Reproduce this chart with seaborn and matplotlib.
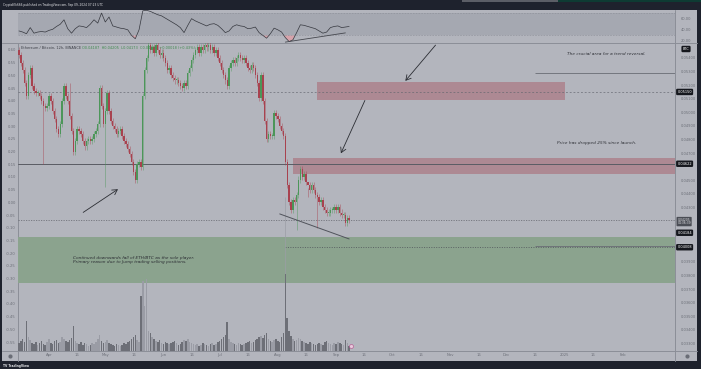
import matplotlib
matplotlib.use("Agg")
import matplotlib.pyplot as plt
import matplotlib.dates as mdates
from matplotlib.patches import Rectangle
from matplotlib.transforms import blended_transform_factory
import numpy as np
import pandas as pd
import seaborn as sns

# ---- data (left axis units for price, daily bars) ----
start_day = "2024-03-16"
first_open_pct = 0.60
closes_pct = [
    0.58, 0.55, 0.52, 0.47, 0.42, 0.50, 0.53, 0.46, 0.44, 0.43,
    0.43, 0.42, 0.40, 0.38, 0.37, 0.38, 0.42, 0.40, 0.36, 0.33,
    0.29, 0.27, 0.31, 0.40, 0.46, 0.42, 0.40, 0.34, 0.28, 0.20,
    0.24, 0.29, 0.28, 0.27, 0.24, 0.22, 0.24, 0.25, 0.24, 0.25,
    0.27, 0.28, 0.31, 0.45, 0.38, 0.31, 0.36, 0.43, 0.36, 0.32,
    0.30, 0.29, 0.27, 0.28, 0.29, 0.26, 0.24, 0.23, 0.21, 0.19,
    0.16, 0.12, 0.09, 0.15, 0.16, 0.14, 0.42, 0.52, 0.57, 0.62,
    0.60, 0.61, 0.59, 0.62, 0.60, 0.58, 0.59, 0.57, 0.55, 0.52,
    0.53, 0.50, 0.49, 0.48, 0.48, 0.47, 0.46, 0.45, 0.47, 0.46,
    0.51, 0.53, 0.56, 0.58, 0.60, 0.61, 0.59, 0.61, 0.60, 0.62,
    0.61, 0.62, 0.60, 0.61, 0.59, 0.60, 0.57, 0.55, 0.52, 0.50,
    0.48, 0.46, 0.53, 0.55, 0.56, 0.55, 0.57, 0.58, 0.57, 0.56,
    0.57, 0.55, 0.53, 0.52, 0.54, 0.53, 0.50, 0.47, 0.41, 0.50,
    0.40, 0.32, 0.25, 0.27, 0.26, 0.26, 0.35, 0.34, 0.33, 0.30,
    0.28, 0.26, 0.16, 0.07, 0.00, -0.03, 0.01, 0.00, 0.03, 0.09,
    0.13, 0.10, 0.11, 0.08, 0.07, 0.05, 0.07, 0.05, 0.03, 0.02,
    0.00, 0.01, -0.02, -0.03, -0.04, -0.04, -0.03, -0.03, -0.02, -0.03,
    -0.02, -0.04, -0.05, -0.05, -0.08, -0.06, -0.07,
]
# notable wicks: day index -> (low, high)
wick_extremes = {13: (0.15, None), 27: (None, 0.47), 46: (0.06, None),
                 148: (-0.11, None), 154: (None, 0.02), 159: (-0.10, None)}
volumes = [
    8, 10, 12, 9, 30, 14, 11, 8, 7, 9,
    6, 8, 10, 7, 6, 9, 12, 8, 7, 10,
    11, 8, 9, 14, 12, 10, 9, 11, 13, 25,
    10, 8, 7, 9, 6, 8, 7, 5, 6, 8,
    7, 9, 12, 16, 10, 8, 9, 11, 8, 7,
    6, 5, 7, 6, 5, 6, 8, 7, 9, 10,
    12, 14, 16, 11, 9, 55, 70, 45, 72, 20,
    18, 14, 12, 10, 9, 11, 8, 7, 9, 8,
    7, 8, 9, 10, 8, 6, 7, 9, 11, 10,
    12, 9, 8, 7, 6, 7, 5, 6, 8, 7,
    6, 5, 7, 8, 6, 7, 9, 10, 12, 14,
    16, 29, 12, 9, 8, 7, 6, 8, 7, 6,
    7, 8, 9, 10, 8, 9, 11, 12, 14, 15,
    13, 16, 18, 12, 10, 9, 11, 12, 10, 9,
    14, 18, 77, 33, 20, 15, 12, 10, 11, 13,
    12, 10, 9, 8, 7, 9, 8, 7, 6, 7,
    8, 7, 6, 9, 10, 8, 7, 6, 8, 7,
    9, 8, 7, 6, 11, 8, 5,
]
# RSI, one value every 2 days
rsi_values = [
    38, 36, 33, 44, 34, 36, 37, 36, 39, 41,
    46, 50, 58, 42, 34, 42, 47, 46, 44, 50,
    58, 52, 70, 54, 63, 47, 45, 43, 42, 40,
    30, 24, 40, 74, 75, 73, 70, 67, 65, 61,
    57, 53, 49, 44, 35, 48, 60, 56, 53, 50,
    47, 50, 51, 48, 42, 35, 38, 46, 49, 47,
    46, 42, 43, 45, 35, 30, 25, 33, 43, 40,
    36, 26, 19, 22, 35, 49, 48, 46, 44, 42,
    38, 34, 36, 44, 46, 47, 44, 45, 46,
]
price_ticks = [0.054, 0.053, 0.052, 0.051, 0.050, 0.049, 0.048, 0.047, 0.045,
               0.044, 0.043, 0.039, 0.038, 0.037, 0.036, 0.035, 0.034, 0.033]
pct_ticks = [0.60, 0.55, 0.50, 0.45, 0.40, 0.35, 0.30, 0.25, 0.20, 0.15, 0.10, 0.05,
             0.00, -0.05, -0.10, -0.15, -0.20, -0.25, -0.30, -0.35, -0.40, -0.45,
             -0.50, -0.55]
tick_dates = ["2024-04-01", "2024-04-16", "2024-05-01", "2024-05-16", "2024-06-01",
              "2024-06-16", "2024-07-01", "2024-07-16", "2024-08-01", "2024-08-16",
              "2024-09-01", "2024-09-16", "2024-10-01", "2024-10-16", "2024-11-01",
              "2024-11-16", "2024-12-01", "2024-12-16", "2025-01-01", "2025-01-16",
              "2025-02-01"]
tick_labels = ["Apr", "16", "May", "16", "Jun", "16", "Jul", "16", "Aug", "16", "Sep",
               "16", "Oct", "16", "Nov", "16", "Dec", "16", "2025", "16", "Feb"]
# (text, price, label shift in points so tags do not collide)
price_tags = [("0.05150", 0.05150, 0), ("0.04622", 0.04622, 0),
              ("0.04184", 0.04184, -6.8), ("0.04008", 0.04008, 0)]
last_price = 0.04205


def to_price(v):
    return 0.04338 + 0.018676 * np.asarray(v)


def to_pct(p):
    return (np.asarray(p) - 0.04338) / 0.018676


W, H = 701, 369
DARK = "#1e222d"
PANE = "#b3b5bd"
BAND = "#a5a8b1"
DIV = "#8b8e97"
TXT = "#6c6f78"
UP, DOWN = "#4c9659", "#a8424f"

sns.set_style("white")
plt.rcParams["font.family"] = ["DejaVu Sans"]

fig = plt.figure(figsize=(W / 100, H / 100), dpi=100)
fig.patch.set_facecolor(DARK)


def px_axes(x0, y0, x1, y1):
    return fig.add_axes([x0 / W, 1 - y1 / H, (x1 - x0) / W, (y1 - y0) / H])


# background canvas in pixel units (UI chrome)
bg = fig.add_axes([0, 0, 1, 1])
bg.set_xlim(0, W)
bg.set_ylim(H, 0)
bg.axis("off")
bg.add_patch(Rectangle((2, 9.5), 695, 351.5, color=PANE, lw=0))
bg.add_patch(Rectangle((462, 0), 96, 1.8, color="#5b5e66", lw=0))
bg.add_patch(Rectangle((558, 0), 143, 1.8, color="#0e3b33", lw=0))
bg.plot([2, 697], [43, 43], color=DIV, lw=0.7)
bg.plot([2, 697], [351, 351], color=DIV, lw=0.7)
bg.plot([18, 18], [9.5, 361], color=DIV, lw=0.7)
bg.plot([675, 675], [9.5, 361], color=DIV, lw=0.7)
bg.scatter([10, 687], [356, 356], s=9, color="#6a6d76", lw=0)
bg.text(3, 5.2, "CryptoNik666 published on TradingView.com, Sep 09, 2024 07:23 UTC",
        color="#e6e7ea", fontsize=2.1, va="center")
bg.text(3, 365.5, "TV TradingView", color="#e6e7ea", fontsize=2.2, va="center",
        fontweight="bold")
bg.text(686, 49, "BTC", color="white", fontsize=2.5, ha="center", va="center",
        bbox=dict(boxstyle="round,pad=0.35", fc="#15171d", ec="none"))

d0 = pd.Timestamp(start_day)
days = pd.date_range(d0, periods=len(closes_pct), freq="D")
rsi_days = pd.date_range(d0, periods=len(rsi_values), freq="2D")
x = mdates.date2num(days)
apr1 = pd.Timestamp("2024-04-01")
xmin = mdates.date2num(apr1 - pd.Timedelta(days=16.52))
xmax = mdates.date2num(apr1 + pd.Timedelta(days=333.7))

# ---- RSI pane ----
rax = px_axes(18, 9.5, 675, 43)
rax.set_facecolor(PANE)
rax.axhspan(30, 70, color=BAND, lw=0)
for lvl in (70, 30):
    rax.axhline(lvl, color="#8a8d96", lw=0.4, ls=(0, (3, 2)))
rsi = np.array(rsi_values, dtype=float)
rx = mdates.date2num(rsi_days)
rax.fill_between(rx, rsi, 30, where=rsi < 30, interpolate=True, color="#d6a3ab", lw=0)
sns.lineplot(x=rx, y=rsi, ax=rax, color="#35373e", lw=0.5)
rax.plot(mdates.date2num([pd.Timestamp("2024-08-05"), pd.Timestamp("2024-09-06")]),
         [18, 34.5], color="#45474e", lw=0.6)
rax.set_xlim(xmin, xmax)
rax.set_ylim(16.4, 76.4)
rax.set_xticks([])
rax.yaxis.tick_right()
rax.set_yticks([20, 40, 60])
rax.set_yticklabels(["20.00", "40.00", "60.00"])
rax.tick_params(axis="y", length=0, pad=4, labelsize=2.6, labelcolor=TXT)
for s in rax.spines.values():
    s.set_visible(False)

# ---- main price pane (left-axis units) ----
ax = px_axes(18, 43, 675, 351)
ax.set_facecolor("none")
ax.set_xlim(xmin, xmax)
ax.set_ylim(to_pct(0.03245), to_pct(0.0551))

ax.axhspan(to_pct(0.03743), to_pct(0.04082), color="#8ba38e", lw=0, zorder=0.5)
box1 = (mdates.date2num(pd.Timestamp("2024-08-22")), mdates.date2num(pd.Timestamp("2025-01-01")))
ax.add_patch(Rectangle((box1[0], to_pct(0.05091)), box1[1] - box1[0],
                       to_pct(0.05224) - to_pct(0.05091), color="#ad8993", lw=0, zorder=0.6))
box2_x = mdates.date2num(pd.Timestamp("2024-08-09"))
ax.add_patch(Rectangle((box2_x, to_pct(0.04547)), xmax - box2_x,
                       to_pct(0.04667) - to_pct(0.04547), color="#ad8993", lw=0, zorder=0.6))

ax.axhline(to_pct(0.05150), color="#62656e", lw=0.45, ls=(0, (3, 3)), zorder=1)
ax.axhline(to_pct(0.04622), color="#5a5c64", lw=0.7, zorder=1)
ax.axhline(to_pct(last_price), color="#5a5c64", lw=0.45, ls=(0, (2, 2)), zorder=1)
aug5 = mdates.date2num(pd.Timestamp("2024-08-05"))
ax.hlines(to_pct(0.04008), aug5, xmax, color="#4a4d55", lw=0.5, ls=(0, (1.5, 2)), zorder=1)
dec16 = mdates.date2num(pd.Timestamp("2024-12-16"))
ax.hlines([to_pct(0.0529), to_pct(0.04014)], dec16, xmax, color="#6a6d75", lw=0.6, zorder=1)
ax.vlines(aug5, to_pct(0.0352), to_pct(0.0438), color="#9c9ea6", lw=0.5, zorder=1)

# candles
closes = np.array(closes_pct)
opens = np.concatenate([[first_open_pct], closes[:-1]])
up = closes >= opens
colors = np.where(up, UP, DOWN)
lows = np.minimum(opens, closes) - 0.012
highs = np.maximum(opens, closes) + 0.012
for i, (lo, hi) in wick_extremes.items():
    if lo is not None:
        lows[i] = lo
    if hi is not None:
        highs[i] = hi
ax.vlines(x, lows, highs, colors=colors, lw=0.4, alpha=0.75, zorder=2)
body = np.maximum(np.abs(closes - opens), 0.004)
ax.bar(x, body, bottom=np.minimum(opens, closes), width=0.72, color=colors, lw=0, zorder=3)

# support line and arrows
sup = mdates.date2num([pd.Timestamp("2024-08-02"), pd.Timestamp("2024-09-08")])
ax.plot(sup, to_pct([0.04253, 0.04069]), color="#50535b", lw=0.7, zorder=4)
arrows = [(("2024-04-18", 0.04253), ("2024-05-09", 0.04446)),
          (("2024-10-25", 0.0551), ("2024-10-07", 0.05216)),
          (("2024-09-17", 0.05106), ("2024-09-03", 0.0468))]
for (t_d, t_p), (h_d, h_p) in arrows:
    ax.annotate("", xy=(mdates.date2num(pd.Timestamp(h_d)), to_pct(h_p)),
                xytext=(mdates.date2num(pd.Timestamp(t_d)), to_pct(t_p)),
                arrowprops=dict(arrowstyle="->,head_length=0.35,head_width=0.2",
                                color="#2b2d33", lw=0.6), zorder=5, annotation_clip=False)

ax.text(mdates.date2num(pd.Timestamp("2025-01-23")), to_pct(0.05429),
        "The crucial area for a trend reversal.", fontsize=3.1, style="italic",
        color="#2b2d33", ha="center", va="center")
ax.text(mdates.date2num(pd.Timestamp("2025-01-18")), to_pct(0.04775),
        "Price has dropped 25% since launch.", fontsize=3.1, style="italic",
        color="#2b2d33", ha="center", va="center")
ax.text(mdates.date2num(pd.Timestamp("2024-04-14")), to_pct(0.03915),
        "Continued downwards fall of ETH/BTC as the sole player.\n"
        "Primary reason due to Jump trading selling positions.",
        fontsize=3.1, style="italic", color="#2b2d33", ha="left", va="center",
        linespacing=1.1)
ax.text(0.0045, 0.983, "Ethereum / Bitcoin, 12h, BINANCE", transform=ax.transAxes,
        fontsize=2.5, color="#3a3d45", va="center")
ax.text(0.098, 0.983, "O0.04187  H0.04205  L0.04173  C0.04205  +0.00018 (+0.43%)",
        transform=ax.transAxes, fontsize=2.5, color="#3f8a4e", va="center")

# left axis ticks
ax.set_yticks(pct_ticks)
ax.set_yticklabels([f"{t:.2f}" for t in pct_ticks])
ax.tick_params(axis="y", length=0, pad=1.5, labelsize=2.7, labelcolor=TXT)
ax.set_xticks(mdates.date2num(pd.to_datetime(tick_dates)))
ax.set_xticklabels(tick_labels)
ax.tick_params(axis="x", length=0, pad=1.6, labelsize=2.7, labelcolor=TXT)
for s in ax.spines.values():
    s.set_visible(False)

# right price axis
sec = ax.secondary_yaxis("right", functions=(to_price, to_pct))
sec.set_yticks(price_ticks)
sec.set_yticklabels([f"{p:.5f}" for p in price_ticks])
sec.tick_params(length=0, pad=4, labelsize=2.6, labelcolor=TXT)
sec.spines["right"].set_visible(False)

tag_tf = blended_transform_factory(ax.transAxes, ax.transData)
for label, p, shift in price_tags:
    ax.annotate(label, xy=(1.0035, to_pct(p)), xycoords=tag_tf,
                xytext=(0, shift), textcoords="offset points",
                fontsize=2.5, color="white", ha="left", va="center",
                annotation_clip=False,
                bbox=dict(boxstyle="round,pad=0.35", fc="#15171d", ec="none"))
ax.annotate("0.04205\n04:36:39", xy=(1.0035, to_pct(last_price)), xycoords=tag_tf,
            xytext=(0, -0.8), textcoords="offset points",
            fontsize=2.2, color="#e3e4e8", ha="left", va="center",
            annotation_clip=False, linespacing=0.95,
            bbox=dict(boxstyle="round,pad=0.25", fc="#4a4d55", ec="none"))

# volume overlay
vax = ax.twinx()
vax.set_ylim(0, 308)
vol_colors = np.where(up, "#9a9ca5", "#6d6f77")
vax.bar(x, volumes, width=0.8, color=vol_colors, lw=0, zorder=1)
vax.scatter([mdates.date2num(pd.Timestamp("2024-09-09"))], [5], s=8,
            facecolor="#e9c9dc", edgecolor="#b04a8a", lw=0.4, zorder=3)
vax.set_yticks([])
for s in vax.spines.values():
    s.set_visible(False)
vax.set_xlim(xmin, xmax)

fig.savefig("out.png", dpi=100, facecolor=fig.get_facecolor())
